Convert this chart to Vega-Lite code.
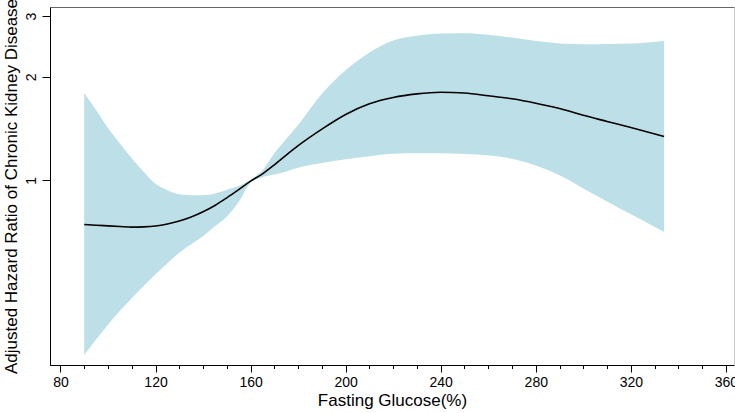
{
  "$schema": "https://vega.github.io/schema/vega-lite/v6.json",
  "width": 684,
  "height": 358,
  "autosize": {"type": "none"},
  "padding": {"left": 50, "top": 7, "right": 1, "bottom": 48},
  "config": {
    "view": {"stroke": "#666", "strokeWidth": 1},
    "axis": {
      "grid": false,
      "labelFont": "Liberation Sans",
      "titleFont": "Liberation Sans",
      "domainColor": "black",
      "tickColor": "black",
      "labelColor": "black",
      "titleColor": "black",
      "titleFontWeight": "normal"
    }
  },
  "data": {
    "values": [
      {"x": 90, "hr": 0.745, "lo": 0.311, "hi": 1.793},
      {"x": 95, "hr": 0.741, "lo": 0.345, "hi": 1.603},
      {"x": 100, "hr": 0.738, "lo": 0.381, "hi": 1.42},
      {"x": 105, "hr": 0.735, "lo": 0.418, "hi": 1.28},
      {"x": 110, "hr": 0.732, "lo": 0.455, "hi": 1.16},
      {"x": 115, "hr": 0.733, "lo": 0.494, "hi": 1.06},
      {"x": 120, "hr": 0.737, "lo": 0.534, "hi": 0.978},
      {"x": 125, "hr": 0.747, "lo": 0.575, "hi": 0.937},
      {"x": 130, "hr": 0.762, "lo": 0.617, "hi": 0.912},
      {"x": 135, "hr": 0.783, "lo": 0.653, "hi": 0.905},
      {"x": 140, "hr": 0.811, "lo": 0.689, "hi": 0.906},
      {"x": 145, "hr": 0.846, "lo": 0.736, "hi": 0.917},
      {"x": 150, "hr": 0.890, "lo": 0.785, "hi": 0.940},
      {"x": 155, "hr": 0.940, "lo": 0.865, "hi": 0.963},
      {"x": 160, "hr": 0.995, "lo": 0.985, "hi": 1.005},
      {"x": 165, "hr": 1.045, "lo": 1.022, "hi": 1.07},
      {"x": 170, "hr": 1.11, "lo": 1.04, "hi": 1.20},
      {"x": 175, "hr": 1.185, "lo": 1.062, "hi": 1.32},
      {"x": 180, "hr": 1.262, "lo": 1.088, "hi": 1.45},
      {"x": 190, "hr": 1.41, "lo": 1.123, "hi": 1.786},
      {"x": 200, "hr": 1.555, "lo": 1.152, "hi": 2.09},
      {"x": 210, "hr": 1.67, "lo": 1.176, "hi": 2.354},
      {"x": 220, "hr": 1.742, "lo": 1.196, "hi": 2.55},
      {"x": 230, "hr": 1.784, "lo": 1.199, "hi": 2.632},
      {"x": 240, "hr": 1.803, "lo": 1.199, "hi": 2.672},
      {"x": 250, "hr": 1.794, "lo": 1.194, "hi": 2.676},
      {"x": 260, "hr": 1.762, "lo": 1.183, "hi": 2.651},
      {"x": 270, "hr": 1.726, "lo": 1.156, "hi": 2.60},
      {"x": 280, "hr": 1.676, "lo": 1.105, "hi": 2.54},
      {"x": 290, "hr": 1.617, "lo": 1.035, "hi": 2.50},
      {"x": 300, "hr": 1.546, "lo": 0.948, "hi": 2.487},
      {"x": 310, "hr": 1.484, "lo": 0.868, "hi": 2.49},
      {"x": 320, "hr": 1.425, "lo": 0.797, "hi": 2.497},
      {"x": 334, "hr": 1.342, "lo": 0.708, "hi": 2.54}
    ]
  },
  "layer": [
    {
      "mark": {"type": "area", "color": "#bddfe8", "opacity": 1, "interpolate": "monotone"},
      "encoding": {
        "x": {
          "field": "x",
          "type": "quantitative",
          "scale": {"domain": [75.6, 363.4], "nice": false, "zero": false},
          "axis": {
            "orient": "bottom",
            "values": [80, 120, 160, 200, 240, 280, 320, 360],
            "tickSize": 7,
            "labelFontSize": 14,
            "labelPadding": 3,
            "labelFlush": false,
            "labelOverlap": false,
            "title": "Fasting Glucose(%)",
            "titleFontSize": 17,
            "titlePadding": 3
          }
        },
        "y": {
          "field": "lo",
          "type": "quantitative",
          "scale": {"type": "log", "domain": [0.291, 3.19], "nice": false},
          "axis": {
            "orient": "left",
            "values": [1, 2, 3],
            "tickSize": 8,
            "labelAngle": -90,
            "labelFontSize": 14,
            "labelPadding": 4,
            "labelFlush": false,
            "labelOverlap": false,
            "title": "Adjusted Hazard Ratio of Chronic Kidney Disease",
            "titleFontSize": 17,
            "titlePadding": 4
          }
        },
        "y2": {"field": "hi"}
      }
    },
    {
      "mark": {"type": "line", "color": "black", "strokeWidth": 1.6, "interpolate": "monotone"},
      "encoding": {
        "x": {
          "field": "x",
          "type": "quantitative",
          "axis": {
            "orient": "bottom",
            "values": [90, 100, 110, 130, 140, 150, 170, 180, 190, 210, 220, 230, 250, 260, 270, 290, 300, 310, 330, 340, 350],
            "tickSize": 3.5,
            "labels": false,
            "domain": false,
            "title": null
          }
        },
        "y": {
          "field": "hr",
          "type": "quantitative",
          "axis": {
            "orient": "right",
            "domainColor": "#cccccc",
            "ticks": false,
            "labels": false,
            "title": null
          }
        }
      }
    }
  ],
  "resolve": {"axis": {"x": "independent", "y": "independent"}}
}
